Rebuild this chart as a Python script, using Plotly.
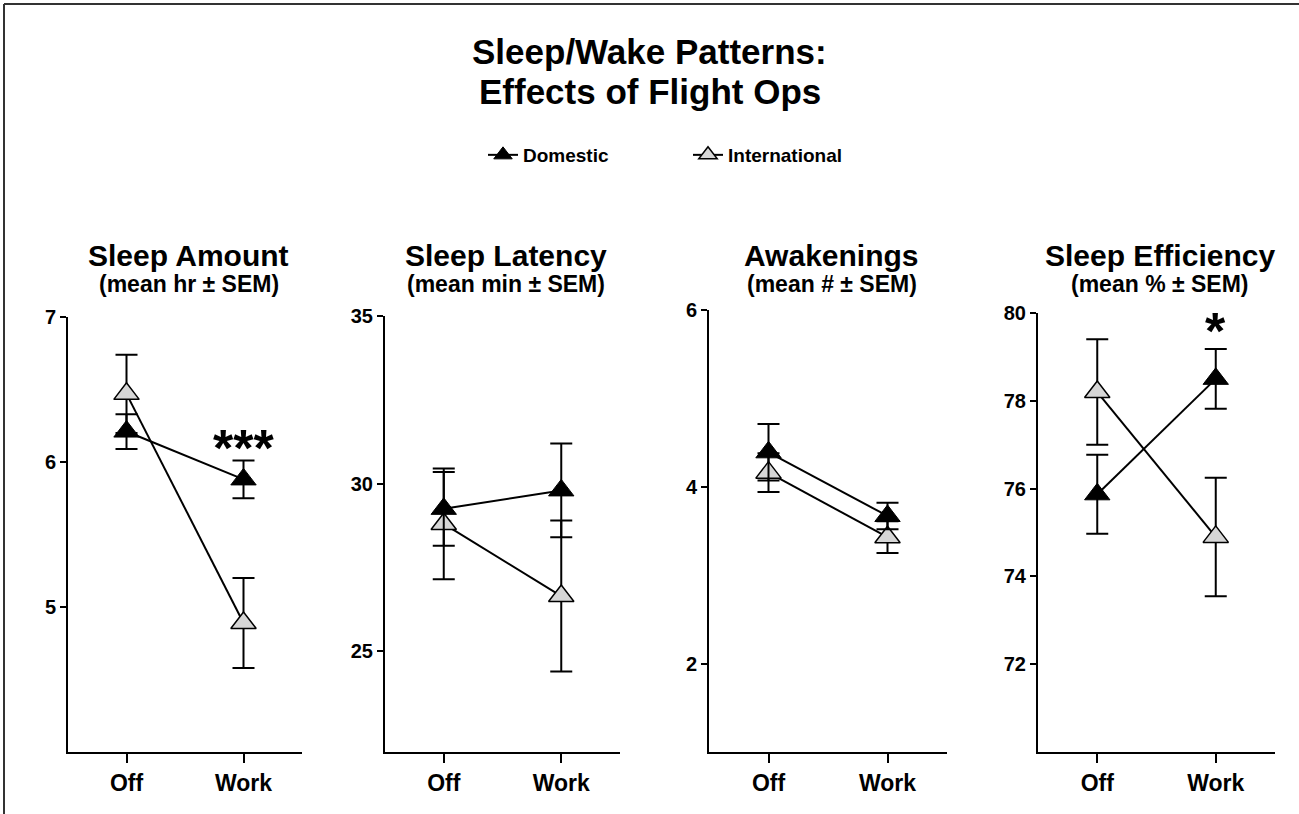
import plotly.graph_objects as go

# ---------------- data ----------------
conditions = ["Off", "Work"]
series_names = ["Domestic", "International"]

panel_titles = ["Sleep Amount", "Sleep Latency", "Awakenings", "Sleep Efficiency"]
panel_subtitles = ["(mean hr ± SEM)", "(mean min ± SEM)", "(mean # ± SEM)", "(mean % ± SEM)"]
main_title = ["Sleep/Wake Patterns:", "Effects of Flight Ops"]

# Sleep Amount (hours)
amount_dom = [6.21, 5.88]
amount_dom_sem = [0.12, 0.13]
amount_int = [6.47, 4.89]
amount_int_sem = [0.27, 0.31]

# Sleep Latency (minutes)
latency_dom = [29.25, 29.8]
latency_dom_sem = [1.1, 1.4]
latency_int = [28.8, 26.65]
latency_int_sem = [1.65, 2.25]

# Awakenings (count)
awak_dom = [4.39, 3.67]
awak_dom_sem = [0.32, 0.15]
awak_int = [4.16, 3.43]
awak_int_sem = [0.22, 0.18]

# Sleep Efficiency (%)
eff_dom = [75.87, 78.5]
eff_dom_sem = [0.9, 0.68]
eff_int = [78.2, 74.9]
eff_int_sem = [1.2, 1.35]

y_ranges = [[4, 7], [22, 35], [1, 6], [70, 80]]
y_ticks = [[5, 6, 7], [25, 30, 35], [2, 4, 6], [72, 74, 76, 78, 80]]

significance = ["***", "", "", "*"]
sig_y = [6.1, None, None, 79.6]

# ---------------- layout helpers ----------------
W, H = 1299, 814
FONT = "Liberation Sans, Arial, Helvetica, sans-serif"

panels = [
    (amount_dom, amount_dom_sem, amount_int, amount_int_sem),
    (latency_dom, latency_dom_sem, latency_int, latency_int_sem),
    (awak_dom, awak_dom_sem, awak_int, awak_int_sem),
    (eff_dom, eff_dom_sem, eff_int, eff_int_sem),
]

px_left = [68, 385, 709, 1038]
px_right = [302, 620, 947, 1275]
px_top = [317, 316, 310, 313]
px_bottom = 752

fig = go.Figure()

for i, (dom, dom_sem, intl, intl_sem) in enumerate(panels):
    ax = "" if i == 0 else str(i + 1)
    xref, yref = "x" + ax, "y" + ax
    fig.add_trace(go.Scatter(
        x=conditions, y=intl, name="International",
        mode="lines+markers", xaxis=xref, yaxis=yref,
        line=dict(color="black", width=2),
        marker=dict(symbol="triangle-up", size=22, color="#d6d6d6",
                    line=dict(color="black", width=1.5)),
        error_y=dict(type="data", array=intl_sem, visible=True,
                     color="black", thickness=2, width=11),
        showlegend=(i == 0), legendrank=2,
    ))
    fig.add_trace(go.Scatter(
        x=conditions, y=dom, name="Domestic",
        mode="lines+markers", xaxis=xref, yaxis=yref,
        line=dict(color="black", width=2),
        marker=dict(symbol="triangle-up", size=22, color="black",
                    line=dict(color="black", width=1)),
        error_y=dict(type="data", array=dom_sem, visible=True,
                     color="black", thickness=2, width=11),
        showlegend=(i == 0), legendrank=1,
    ))

    x0 = px_left[i] / W
    x1 = px_right[i] / W
    y0 = (H - px_bottom) / H
    y1 = (H - px_top[i]) / H

    fig.layout["xaxis" + ax] = dict(
        domain=[x0, x1], anchor=yref, type="category",
        range=[-0.5, 1.5], showline=True, linecolor="black", linewidth=2,
        ticks="outside", ticklen=9, tickwidth=2, tickcolor="black",
        showgrid=False, zeroline=False, automargin=False,
        tickfont=dict(family=FONT, size=23, color="black", weight="bold"),
    )
    fig.layout["yaxis" + ax] = dict(
        domain=[y0, y1], anchor=xref, range=y_ranges[i],
        tickvals=y_ticks[i], showline=True, linecolor="black", linewidth=2,
        ticks="outside", ticklen=6, tickwidth=2, tickcolor="black",
        showgrid=False, zeroline=False, automargin=False,
        tickfont=dict(family=FONT, size=20, color="black", weight="bold"),
    )
    # overlay axes: inner halves of the crossing tick marks
    ox = str(i + 5)
    fig.layout["xaxis" + ox] = dict(
        domain=[x0, x1], anchor=yref, overlaying=xref, type="category",
        range=[-0.5, 1.5], categoryorder="array", categoryarray=conditions,
        tickvals=conditions, showticklabels=False, showline=False,
        ticks="inside", ticklen=5, tickwidth=2, tickcolor="black",
        showgrid=False, zeroline=False, automargin=False,
    )
    fig.layout["yaxis" + ox] = dict(
        domain=[y0, y1], anchor=xref, overlaying=yref, range=y_ranges[i],
        tickvals=y_ticks[i], showticklabels=False, showline=False,
        ticks="inside", ticklen=5, tickwidth=2, tickcolor="black",
        showgrid=False, zeroline=False, automargin=False,
    )

    xc = (px_left[i] + px_right[i]) / 2 / W + 0.003
    fig.add_annotation(
        text=panel_titles[i], xref="paper", yref="paper",
        x=xc, y=(H - 255) / H, showarrow=False, xanchor="center", yanchor="middle",
        font=dict(family=FONT, size=30, color="black", weight="bold"),
    )
    fig.add_annotation(
        text=panel_subtitles[i], xref="paper", yref="paper",
        x=xc, y=(H - 284) / H, showarrow=False, xanchor="center", yanchor="middle",
        font=dict(family=FONT, size=23, color="black", weight="bold"),
    )
    if significance[i]:
        fig.add_annotation(
            text=significance[i], xref=xref, yref=yref,
            x=conditions[1], y=sig_y[i], showarrow=False,
            xanchor="center", yanchor="middle",
            font=dict(family=FONT, size=52, color="black", weight="bold"),
        )

for line_text, ypx in zip(main_title, [51, 91]):
    fig.add_annotation(
        text=line_text, xref="paper", yref="paper",
        x=0.5, y=(H - ypx) / H, showarrow=False, xanchor="center", yanchor="middle",
        font=dict(family=FONT, size=35, color="black", weight="bold"),
    )

fig.add_shape(type="line", xref="paper", yref="paper",
              x0=4 / W, x1=1.0, y0=(H - 4) / H, y1=(H - 4) / H,
              line=dict(color="#333333", width=2))
fig.add_shape(type="line", xref="paper", yref="paper",
              x0=4 / W, x1=4 / W, y0=0, y1=(H - 4) / H,
              line=dict(color="#333333", width=2))

fig.update_layout(
    width=W, height=H,
    margin=dict(l=0, r=0, t=0, b=0, pad=0, autoexpand=False),
    paper_bgcolor="white", plot_bgcolor="white",
    showlegend=True,
    legend=dict(
        orientation="h", x=483 / W, xanchor="left", y=(H - 155) / H, yanchor="middle",
        font=dict(family=FONT, size=19, color="black", weight="bold"),
        bgcolor="rgba(0,0,0,0)", entrywidth=160, entrywidthmode="pixels",
        itemsizing="trace",
    ),
)

post = ("document.documentElement.style.overflow='hidden';"
        "document.body.style.margin='0';document.body.style.padding='0';document.body.style.overflow='hidden';"
        "var d=document.getElementById('{plot_id}');"
        "d.style.position='absolute';d.style.left='0px';d.style.top='0px';")

fig.write_html("out.html", post_script=post, config={"displayModeBar": False})
